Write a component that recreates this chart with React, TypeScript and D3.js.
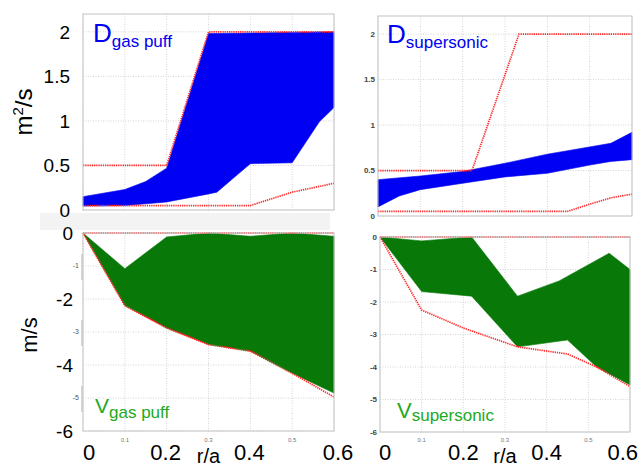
import React from "react";
import * as d3 from "d3";

// ---------- DATA ----------
// Panel A: D gas puff (m^2/s)
const dgpRedHiX = [0, 0.2, 0.3, 0.6];
const dgpRedHiY = [0.5, 0.5, 2, 2];
const dgpRedLoX = [0, 0.4, 0.5, 0.6];
const dgpRedLoY = [0.05, 0.05, 0.2, 0.3];
const dgpHiX = [0, 0.1, 0.15, 0.2, 0.3, 0.6];
const dgpHiY = [0.15, 0.23, 0.32, 0.47, 1.98, 2.0];
const dgpLoX = [0, 0.1, 0.2, 0.3, 0.32, 0.37, 0.4, 0.5, 0.565, 0.6];
const dgpLoY = [0.045, 0.05, 0.09, 0.18, 0.2, 0.4, 0.52, 0.53, 0.99, 1.15];

// Panel B: D supersonic (m^2/s)
const dssRedHiX = [0, 0.222, 0.333, 0.6];
const dssRedHiY = [0.5, 0.5, 2, 2];
const dssRedLoX = [0, 0.447, 0.5, 0.55, 0.6];
const dssRedLoY = [0.05, 0.05, 0.13, 0.2, 0.24];
const dssHiX = [0, 0.1, 0.2, 0.3, 0.4, 0.5, 0.55, 0.6];
const dssHiY = [0.4, 0.44, 0.49, 0.58, 0.68, 0.76, 0.8, 0.92];
const dssLoX = [0, 0.05, 0.1, 0.2, 0.3, 0.4, 0.5, 0.55, 0.6];
const dssLoY = [0.1, 0.22, 0.29, 0.36, 0.43, 0.47, 0.56, 0.6, 0.62];

// Panel C: V gas puff (m/s)
const vgpRedHiX = [0, 0.6];
const vgpRedHiY = [0, 0];
const vgpRedLoX = [0, 0.1, 0.2, 0.3, 0.4, 0.5, 0.6];
const vgpRedLoY = [0, -2.2, -2.88, -3.38, -3.58, -4.25, -4.97];
const vgpHiX = [0, 0.1, 0.2, 0.3, 0.4, 0.5, 0.6];
const vgpHiY = [0, -1.08, -0.12, 0, -0.1, 0, -0.1];
const vgpLoX = [0, 0.1, 0.2, 0.3, 0.4, 0.5, 0.6];
const vgpLoY = [0, -2.2, -2.88, -3.38, -3.58, -4.25, -4.85];

// Panel D: V supersonic (m/s)
const vssRedHiX = [0, 0.6];
const vssRedHiY = [0, 0];
const vssRedLoX = [0, 0.1, 0.2, 0.33, 0.45, 0.52, 0.6];
const vssRedLoY = [0, -2.25, -2.8, -3.38, -3.6, -4.0, -4.6];
const vssHiX = [0, 0.1, 0.22, 0.33, 0.43, 0.55, 0.6];
const vssHiY = [0, -0.12, 0, -1.82, -1.35, -0.5, -1.0];
const vssLoX = [0, 0.1, 0.22, 0.33, 0.45, 0.52, 0.6];
const vssLoY = [0, -1.68, -1.82, -3.38, -3.17, -4.0, -4.55];

// Ticks / labels
const xGrid = [0, 0.1, 0.2, 0.3, 0.4, 0.5, 0.6];
const dGrid = [0, 0.5, 1, 1.5, 2];
const dTickLabels = ["0", "0.5", "1", "1.5", "2"];
const vGrid = [0, -1, -2, -3, -4, -5, -6];
const vTickLabels = ["0", "-1", "-2", "-3", "-4", "-5", "-6"];
const vBigTicks = [0, -2, -4, -6];
const vSmallTicks = [-1, -3, -5];
const xBigTicks = [0, 0.2, 0.4, 0.6];
const xSmallTicks = [0.1, 0.3, 0.5];

const FONT = "'Liberation Sans', Arial, sans-serif";
const BLUE = "#0000f2";
const GREEN = "#087808";
const RED = "#ff2a2a";

type Pts = [number, number][];
const zip = (xs: number[], ys: number[]): Pts => xs.map((x, i) => [x, ys[i]]);

interface PanelProps {
  box: { x0: number; x1: number; y0: number; y1: number };
  yDomain: [number, number];
  yGrid: number[];
  hiX: number[]; hiY: number[]; loX: number[]; loY: number[];
  fill: string;
  redHi: Pts; redLo: Pts;
  children?: (x: d3.ScaleLinear<number, number>, y: d3.ScaleLinear<number, number>) => React.ReactNode;
}

function Panel(p: PanelProps) {
  const x = d3.scaleLinear().domain([0, 0.6]).range([p.box.x0, p.box.x1]);
  const y = d3.scaleLinear().domain(p.yDomain).range([p.box.y1, p.box.y0]);
  const line = d3.line<[number, number]>().x((d) => x(d[0])).y((d) => y(d[1]));
  const poly = [...zip(p.hiX, p.hiY), ...zip(p.loX, p.loY).reverse()];
  return (
    <g>
      <rect x={p.box.x0} y={p.box.y0} width={p.box.x1 - p.box.x0} height={p.box.y1 - p.box.y0} fill="#fff" />
      {xGrid.map((v) => (
        <line key={"gx" + v} x1={x(v)} x2={x(v)} y1={p.box.y0} y2={p.box.y1} stroke="#d4d4d4" strokeDasharray="1 1.5" />
      ))}
      {p.yGrid.map((v) => (
        <line key={"gy" + v} x1={p.box.x0} x2={p.box.x1} y1={y(v)} y2={y(v)} stroke="#d4d4d4" strokeDasharray="1 1.5" />
      ))}
      <path d={line(poly) + "Z"} fill={p.fill} stroke={p.fill} strokeWidth={0.6} />
      <path d={line(p.redHi) || ""} fill="none" stroke={RED} strokeWidth={1.7} strokeDasharray="1.3 0.9" />
      <path d={line(p.redLo) || ""} fill="none" stroke={RED} strokeWidth={1.7} strokeDasharray="1.3 0.9" />
      <rect x={p.box.x0} y={p.box.y0} width={p.box.x1 - p.box.x0} height={p.box.y1 - p.box.y0} fill="none" stroke="#c4c4c4" />
      {p.children ? p.children(x, y) : null}
    </g>
  );
}

export default function App() {
  const boxA = { x0: 83, x1: 334, y0: 14, y1: 210 };
  const boxB = { x0: 378, x1: 632, y0: 16, y1: 216 };
  const boxC = { x0: 83, x1: 334, y0: 233, y1: 431 };
  const boxD = { x0: 380, x1: 630, y0: 237, y1: 432 };
  return (
    <svg width={642} height={469} style={{ position: "absolute", left: 0, top: 0, background: "#fff" }} fontFamily={FONT}>
      <rect width={642} height={469} fill="#fff" />
      {/* Panel A */}
      <Panel box={boxA} yDomain={[0, 2.2]} yGrid={dGrid} hiX={dgpHiX} hiY={dgpHiY} loX={dgpLoX} loY={dgpLoY}
        fill={BLUE} redHi={zip(dgpRedHiX, dgpRedHiY)} redLo={zip(dgpRedLoX, dgpRedLoY)}>
        {(x, y) => (
          <g>
            <rect x={40} y={213} width={290} height={17} fill="#f3f3f3" />
            {dGrid.map((v, i) => (
              <text key={v} x={70} y={y(v)} dy="0.36em" textAnchor="end" fontSize={19} fill="#000">{dTickLabels[i]}</text>
            ))}
            <text x={x(0) + 10} y={42} fontSize={26} fill={BLUE}>D<tspan fontSize={17} dy={5}>gas puff</tspan></text>
          </g>
        )}
      </Panel>
      {/* Panel B */}
      <Panel box={boxB} yDomain={[0, 2.2]} yGrid={dGrid} hiX={dssHiX} hiY={dssHiY} loX={dssLoX} loY={dssLoY}
        fill={BLUE} redHi={zip(dssRedHiX, dssRedHiY)} redLo={zip(dssRedLoX, dssRedLoY)}>
        {(x, y) => (
          <g>
            {dGrid.map((v, i) => (
              <text key={v} x={x(0) - 3} y={y(v)} dy="0.35em" textAnchor="end" fontSize={8} fontWeight="bold" fill="#444">{dTickLabels[i]}</text>
            ))}
            <text x={x(0) + 9} y={43} fontSize={26} fill={BLUE}>D<tspan fontSize={17} dy={5}>supersonic</tspan></text>
          </g>
        )}
      </Panel>
      {/* Panel C */}
      <Panel box={boxC} yDomain={[-6, 0]} yGrid={vGrid} hiX={vgpHiX} hiY={vgpHiY} loX={vgpLoX} loY={vgpLoY}
        fill={GREEN} redHi={zip(vgpRedHiX, vgpRedHiY)} redLo={zip(vgpRedLoX, vgpRedLoY)}>
        {(x, y) => (
          <g>
            {vSmallTicks.map((v) => (
              <g key={v}>
                <line x1={82} x2={82} y1={y(v) - 12} y2={y(v) + 14} stroke="#c8c8c8" strokeWidth={1.5} />
                <text x={79} y={y(v)} dy="0.35em" textAnchor="end" fontSize={7} fill="#555">{String(v)}</text>
              </g>
            ))}
            {vBigTicks.map((v) => (
              <text key={v} x={73} y={y(v)} dy="0.36em" textAnchor="end" fontSize={19} fill="#000">{String(v)}</text>
            ))}
            {xSmallTicks.map((v) => (
              <text key={v} x={x(v)} y={442} textAnchor="middle" fontSize={6} fill="#777">{String(v)}</text>
            ))}
            {xBigTicks.map((v, i) => (
              <text key={v} x={i === 0 ? x(v) : x(v) + (i === 3 ? 4 : -1)} y={460} textAnchor={i === 0 ? "start" : "middle"} fontSize={22} fill="#000">{String(v)}</text>
            ))}
            <text x={x(0.3)} y={463} textAnchor="middle" fontSize={20} fill="#000">r/a</text>
            <text x={x(0) + 12} y={413} fontSize={21} fill="#22aa22">V<tspan fontSize={17} dy={5}>gas puff</tspan></text>
          </g>
        )}
      </Panel>
      {/* Panel D */}
      <Panel box={boxD} yDomain={[-6, 0]} yGrid={vGrid} hiX={vssHiX} hiY={vssHiY} loX={vssLoX} loY={vssLoY}
        fill={GREEN} redHi={zip(vssRedHiX, vssRedHiY)} redLo={zip(vssRedLoX, vssRedLoY)}>
        {(x, y) => (
          <g>
            {vGrid.map((v, i) => (
              <text key={v} x={x(0) - 3} y={y(v)} dy="0.35em" textAnchor="end" fontSize={8} fontWeight="bold" fill="#444">{vTickLabels[i]}</text>
            ))}
            {xSmallTicks.map((v) => (
              <text key={v} x={x(v)} y={442} textAnchor="middle" fontSize={6} fill="#777">{String(v)}</text>
            ))}
            {xBigTicks.map((v, i) => (
              <text key={v} x={i === 0 ? x(v) - 1 : i === 3 ? x(v) + 8 : x(v)} y={460} textAnchor={i === 0 ? "start" : i === 3 ? "end" : "middle"} fontSize={22} fill="#000">{String(v)}</text>
            ))}
            <text x={x(0.3)} y={463} textAnchor="middle" fontSize={20} fill="#000">r/a</text>
            <text x={x(0) + 17} y={418} fontSize={22} fill="#22aa22">V<tspan fontSize={17} dy={3}>supersonic</tspan></text>
          </g>
        )}
      </Panel>
      {/* axis titles */}
      <text transform="translate(32,112) rotate(-90)" textAnchor="middle" fontSize={24} fill="#000">
        m<tspan fontSize={15} dy={-9}>2</tspan><tspan dy={9}>/s</tspan>
      </text>
      <text transform="translate(37,335) rotate(-90)" textAnchor="middle" fontSize={22} fill="#000">m/s</text>
    </svg>
  );
}
